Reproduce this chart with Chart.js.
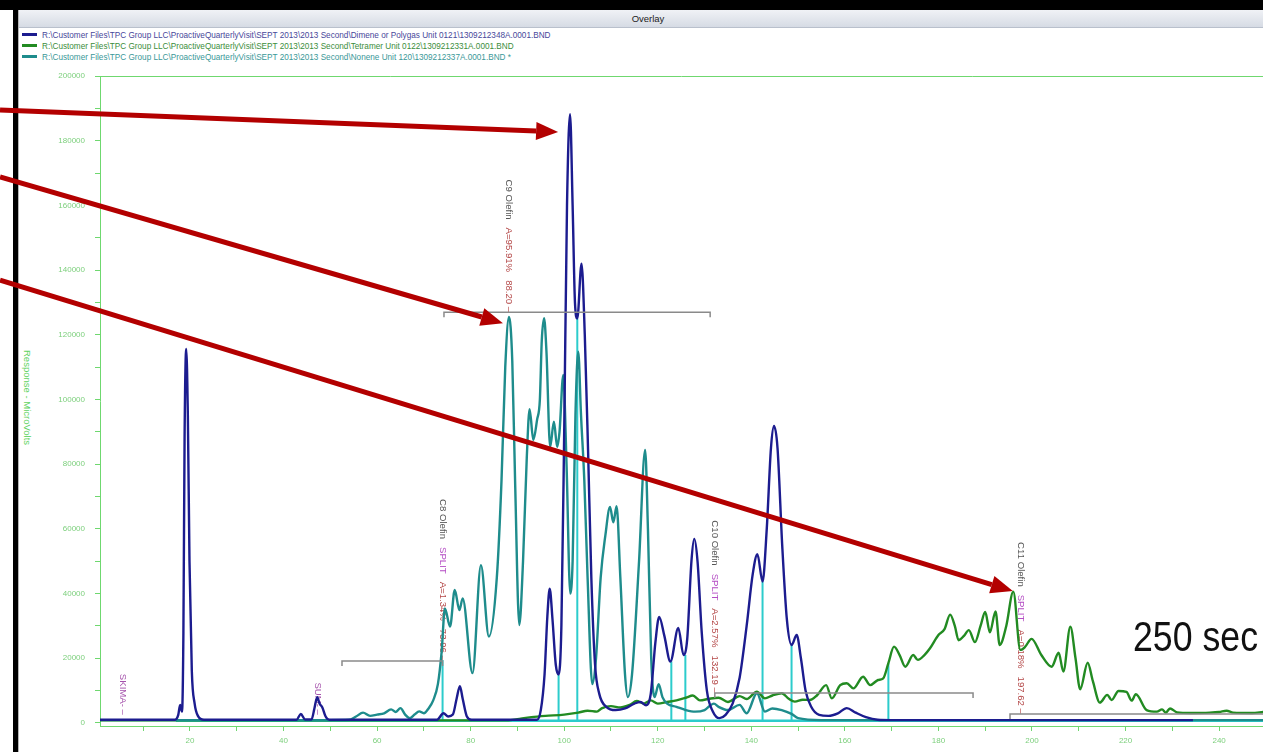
<!DOCTYPE html>
<html>
<head>
<meta charset="utf-8">
<title>Overlay</title>
<script src="https://cdn.jsdelivr.net/npm/chart.js@4/dist/chart.umd.min.js"></script>
<style>
  html, body { margin: 0; padding: 0; background: #fff; }
  body { width: 1263px; height: 752px; position: relative; overflow: hidden;
         font-family: "Liberation Sans", Arial, sans-serif; }
  #frameTop { position: absolute; left: 0; top: 0; width: 1263px; height: 10px; background: #000; }
  #frameLeft { position: absolute; left: 13px; top: 0; width: 5px; height: 752px; background: #000; }
  #frameEdge { position: absolute; left: 18px; top: 10px; width: 1px; height: 742px; background: #b4b4b4; }
  #titleBar { position: absolute; left: 19px; top: 10px; width: 1244px; height: 18px;
              background: linear-gradient(#f0f2f6, #d6dbe4); border-bottom: 1px solid #b9c0cc;
              box-sizing: border-box; padding-left: 14px;
              font-size: 9.5px; line-height: 18px; color: #222; text-align: center; }
  #legend { position: absolute; left: 22px; top: 30px; font-size: 8.2px; line-height: 11px; white-space: nowrap; }
  #legend .row { height: 11px; }
  #legend .sw { display: inline-block; width: 15px; height: 3px; vertical-align: middle; margin-right: 5px; position: relative; top: -1px; }
  #yTitle { position: absolute; left: 22px; top: 350px; writing-mode: vertical-rl; font-size: 9.5px; color: #5fd35f; }
  #chart { position: absolute; left: 0; top: 0; z-index: 2; }
  #note { position: absolute; left: 1133px; top: 616px; z-index: 3; font-size: 42px; line-height: 42px;
          color: #111; white-space: nowrap; transform: scaleX(0.85); transform-origin: 0 0; }
</style>
</head>
<body>
<div id="frameTop"></div>
<div id="frameLeft"></div>
<div id="frameEdge"></div>
<div id="titleBar">Overlay</div>
<div id="legend">
  <div class="row" style="color:#47479a"><span class="sw" style="background:#1c1c8f"></span>R:\Customer Files\TPC Group LLC\ProactiveQuarterlyVisit\SEPT 2013\2013 Second\Dimene or Polygas Unit 0121\1309212348A.0001.BND</div>
  <div class="row" style="color:#3b8d3b"><span class="sw" style="background:#228b22"></span>R:\Customer Files\TPC Group LLC\ProactiveQuarterlyVisit\SEPT 2013\2013 Second\Tetramer Unit 0122\1309212331A.0001.BND</div>
  <div class="row" style="color:#3a9898"><span class="sw" style="background:#1e8c8c"></span>R:\Customer Files\TPC Group LLC\ProactiveQuarterlyVisit\SEPT 2013\2013 Second\Nonene Unit 120\1309212337A.0001.BND *</div>
</div>
<div id="yTitle">Response - MicroVolts</div>
<canvas id="chart" width="1263" height="752"></canvas>
<div id="note">250 sec</div>

<script>
// ---- Axis ticks (minutes on x, microvolts on y) ----
const xTickValues = [10, 20, 30, 40, 50, 60, 70, 80, 90, 100, 110, 120, 130, 140, 150, 160, 170, 180, 190, 200, 210, 220, 230, 240];
const yTickValues = [0, 10000, 20000, 30000, 40000, 50000, 60000, 70000, 80000, 90000, 100000,
                     110000, 120000, 130000, 140000, 150000, 160000, 170000, 180000, 190000, 200000];

// ---- Traces: [time, response] ----
const dimeneTrace = [
  [0.77,1000],[16.8,1000],[17.5,2500],[17.9,5600],[18.3,3500],[18.6,28000],[18.85,88000],[19.2,115600],[19.55,95000],
  [19.9,50000],[20.4,16000],[21.0,6000],[21.7,2200],[23,1000],
  [42.8,1000],[43.7,2800],[44.6,1100],
  [46.0,1100],[46.6,4500],[47.2,8000],[47.7,6000],[48.3,4800],[49,2000],[49.8,1000],
  [72.8,1000],[74.2,3000],[75.2,2000],[76.2,2600],[77.0,7500],[77.7,11400],[78.3,7500],[79.2,2000],[80.2,1000],
  [94.2,1000],[95.0,4000],[95.8,15000],[96.4,33000],[96.9,41500],[97.5,32000],[98.2,18000],[98.8,15000],[99.4,30000],
  [100.0,90000],[100.6,160000],[101.25,188200],[101.8,160000],[102.3,130000],[102.8,125000],[103.7,142000],[104.4,120000],
  [105.1,84400],[105.8,45000],[106.6,18000],[107.5,9000],[109,5000],[111,4000],[113,4500],[115,6000],[116.3,6500],
  [117.5,5500],[118.5,9000],[119.5,25000],[120.3,32800],[121.4,27000],[122.7,19000],[124.4,29400],[125.5,21000],
  [126.3,26000],[127.2,50000],[127.8,56900],[128.5,50000],[129.4,28000],[130.5,10000],[131.8,3500],[133.2,1500],
  [134.5,2500],[136,6000],[137.5,14000],[139,30000],[140.3,46000],[141.3,52200],[142.4,43700],[143.3,60000],
  [144.2,85000],[144.85,91800],[145.6,85000],[146.6,55000],[147.6,32000],[148.6,24100],[149.7,27200],[150.6,20000],
  [151.6,10000],[152.8,5000],[154.5,2500],[156.5,2200],[158.5,3000],[160.4,4600],[162.3,3200],[164.5,1800],
  [167,1000],[170,900],[234.4,900]
];

const tetramerTrace = [
  [0.77,800],[88,800],[90,1200],[93,1800],[96,2200],[100,2600],[103,3200],[105,3800],[107,3500],[108,4500],[110,5200],
  [112,4800],[114,5600],[115.5,6800],[117,6000],[118.5,7000],[120,6000],[122,6500],[124,7000],[126,7800],[127.5,8500],
  [129,7000],[131,7500],[133,7800],[135,6500],[137.5,8300],[139,7400],[141.2,9700],[142.9,7600],[144.5,8500],
  [146.5,9200],[148,7500],[149.3,6600],[151,7200],[152.5,7100],[154,8500],[156,11700],[157.2,7600],[159,11700],
  [160.4,12300],[161.8,10700],[163.9,14300],[165.4,11700],[167.1,13300],[168.2,13800],[169.3,18500],[170.5,23600],
  [171.7,21000],[172.9,17400],[174.6,21000],[175.6,19500],[177,21000],[178.2,23100],[180,27200],[181.3,29000],
  [182.5,33500],[183.5,30000],[184.3,25600],[185.5,27000],[186.5,28700],[187.8,25000],[189,30000],[190,34300],
  [191,28000],[192.2,34500],[193.1,24100],[194.5,30000],[196,40600],[197.5,22600],[198.5,23500],[199.9,26000],
  [202,21000],[204.2,17400],[205.7,21700],[206.7,15900],[208.2,29800],[209.3,20000],[210.3,10400],[211.9,18600],
  [213,13000],[214.5,6300],[216.1,8700],[217,7100],[218.5,9900],[220.2,9600],[221.3,6900],[222.2,8900],[224.5,4000],
  [226.7,3500],[227.8,4200],[228.6,3200],[229.5,4500],[231,3300],[234,3100],[238,3200],[240,3400],[241.6,3800],
  [243,3200],[247,3100],[249.4,3400]
];

const noneneTrace = [
  [0.77,900],[50,900],[54,1000],[55.5,2000],[57,3200],[58.5,2200],[60,2600],[61.5,3000],[63,4200],[64,3400],[65,4600],
  [66,2600],[67,1500],[68,2600],[69,3600],[70,3000],[71,4500],[72,7000],[73,12000],[73.8,22000],[74.5,35400],
  [75.6,29800],[76.6,41100],[77.6,34900],[78.3,38500],[80.4,15400],[82.2,48800],[83.9,26700],[85.6,45000],[86.6,75000],
  [87.4,110000],[88.2,125500],[88.9,112000],[89.5,75000],[90.4,30300],[91.2,50000],[92.0,82000],[92.6,97000],[93.4,87500],
  [94.2,93700],[94.8,100000],[95.2,118000],[95.7,125100],[96.2,115000],[97.0,85400],[97.8,93100],[98.5,85400],[99.0,90000],
  [99.8,107600],[100.5,80000],[101.3,40000],[101.8,50000],[102.4,95000],[103,114800],[103.6,95000],[104.3,75000],
  [105,45000],[106,12000],[106.8,20000],[107.8,45000],[108.8,58000],[109.8,66800],[110.5,62000],[111.2,67000],
  [112,45000],[113,15000],[113.6,8000],[114.5,15000],[116,50000],[117.3,84400],[117.9,60000],[118.6,20000],
  [119.3,8000],[120.2,12000],[121,8000],[122,6000],[124,5000],[126,4000],[128,3500],[130,4000],[132,6000],[133,5000],
  [135,4000],[137.5,5600],[139,3000],[141.2,9200],[142.9,3500],[144.5,4500],[146.5,4000],[148.6,2800],[150,1500],
  [155,900],[249.4,900]
];

// Integration baseline and peak drop lines
const integrationBaseline = [[17,700],[249.4,700]];
const dropTimes = [74.0, 98.8, 102.8, 122.9, 125.9, 142.4, 148.6, 169.3];
const dropTops  = [19500, 15000, 125000, 19000, 21000, 43700, 24100, 18500];

// Named peak groups
const groupNames  = ['C8 Olefin', 'C9 Olefin', 'C10 Olefin', 'C11 Olefin'];
const groupFlags  = ['SPLIT', '', 'SPLIT', 'SPLIT'];
const groupAreas  = ['A=1.34%', 'A=95.91%', 'A=2.57%', 'A=0.18%'];
const groupTimes  = [73.96, 88.20, 132.19, 197.62];
const groupStart  = [52.5, 74.3, 132.2, 195.3];
const groupEnd    = [74.0, 131.2, 187.4, 249.4];
const groupLevel  = [19200, 127000, 9300, 2800];

// Timed events
const eventNames = ['SKIMA-', 'SUM-'];
const eventTimes = [5.7, 47.3];
const eventLevel = [2500, 2500];

// Callout arrows: tail -> tip, in time / response units
const arrowTails = [[-20.6, 189500], [-20.6, 168800], [-20.6, 136900]];
const arrowTips  = [[98.7, 182700], [86.9, 123600], [195.9, 40800]];

// ---- styling ----
const AXIS_GREEN = '#6fd86f';
const LABEL_GREEN = '#7ccf7c';
const BRACKET_TICK = 1600;

const toPoints = arr => arr.map(p => ({ x: p[0], y: p[1] }));

function dropLinePoints() {
  const pts = [];
  dropTimes.forEach((t, i) => {
    pts.push({ x: t, y: 700 }, { x: t, y: dropTops[i] }, { x: t, y: null });
  });
  return pts;
}
function bracketPoints() {
  const pts = [];
  groupStart.forEach((s, i) => {
    const lv = groupLevel[i];
    pts.push({ x: s, y: lv - BRACKET_TICK }, { x: s, y: lv }, { x: groupEnd[i], y: lv },
             { x: groupEnd[i], y: lv - BRACKET_TICK }, { x: groupEnd[i], y: null });
  });
  return pts;
}

const traceStyle = (color, order) => ({
  borderColor: color, borderWidth: 2.4, pointRadius: 0, fill: false,
  cubicInterpolationMode: 'monotone', order: order
});

const datasets = [
  Object.assign({ label: 'Dimene or Polygas Unit 0121', data: toPoints(dimeneTrace) }, traceStyle('#1c1c8f', 0)),
  Object.assign({ label: 'Nonene Unit 120', data: toPoints(noneneTrace) }, traceStyle('#1e8c8c', 1)),
  Object.assign({ label: 'Tetramer Unit 0122', data: toPoints(tetramerTrace) }, traceStyle('#228b22', 2)),
  { label: 'groups', data: bracketPoints(), borderColor: '#8a8a8a', borderWidth: 1.5, pointRadius: 0,
    tension: 0, spanGaps: false, order: -1 },
  { label: 'drops', data: dropLinePoints(), borderColor: '#2ccccc', borderWidth: 2, pointRadius: 0,
    tension: 0, spanGaps: false, order: 3 },
  { label: 'baseline', data: toPoints(integrationBaseline), borderColor: '#2ccccc', borderWidth: 2.5,
    pointRadius: 0, tension: 0, order: 4 }
];

// Rotated peak/event annotations, drawn beneath the traces
const peakLabels = {
  id: 'peakLabels',
  beforeDatasetsDraw(chart) {
    const { ctx, scales: { x, y } } = chart;
    ctx.save();
    ctx.font = '9.6px "Liberation Sans", Arial, sans-serif';
    ctx.textBaseline = 'middle';
    ctx.textAlign = 'left';
    const gap = 8;
    const drawVertical = (parts, t, level) => {
      const px = x.getPixelForValue(t), py = y.getPixelForValue(level);
      const widths = parts.map(p => ctx.measureText(p[0]).width);
      const total = widths.reduce((a, b) => a + b, 0) + gap * (parts.length - 1);
      ctx.save();
      ctx.translate(px, py);
      ctx.rotate(Math.PI / 2);
      let cx = -total;
      parts.forEach((p, i) => {
        ctx.fillStyle = p[1];
        ctx.fillText(p[0], cx, 0);
        cx += widths[i] + gap;
      });
      ctx.restore();
    };
    groupNames.forEach((name, i) => {
      const parts = [[name, '#555555']];
      if (groupFlags[i]) parts.push([groupFlags[i], '#b44cc4']);
      parts.push([groupAreas[i], '#b44848']);
      parts.push([groupTimes[i].toFixed(2) + ' \u2013', '#b44848']);
      drawVertical(parts, groupTimes[i], groupLevel[i]);
    });
    eventNames.forEach((name, i) => {
      drawVertical([[name + ' \u2013', '#a552ac']], eventTimes[i], eventLevel[i]);
    });
    ctx.restore();
  }
};

// Plot frame top edge
const plotFrame = {
  id: 'plotFrame',
  afterDraw(chart) {
    const { ctx, chartArea: a } = chart;
    ctx.save();
    ctx.strokeStyle = AXIS_GREEN;
    ctx.lineWidth = 1;
    ctx.beginPath();
    ctx.moveTo(a.left, a.top + 0.5);
    ctx.lineTo(a.right, a.top + 0.5);
    ctx.stroke();
    ctx.restore();
  }
};

// Red callout arrows on top of everything
const callouts = {
  id: 'callouts',
  afterDraw(chart) {
    const { ctx, scales: { x, y } } = chart;
    ctx.save();
    ctx.strokeStyle = '#b30000';
    ctx.fillStyle = '#b30000';
    ctx.lineWidth = 5;
    ctx.lineCap = 'butt';
    arrowTails.forEach((tail, i) => {
      const x0 = x.getPixelForValue(tail[0]), y0 = y.getPixelForValue(tail[1]);
      const x1 = x.getPixelForValue(arrowTips[i][0]), y1 = y.getPixelForValue(arrowTips[i][1]);
      const ang = Math.atan2(y1 - y0, x1 - x0);
      const headLen = 22, headHalf = 9;
      const bx = x1 - headLen * Math.cos(ang), by = y1 - headLen * Math.sin(ang);
      ctx.beginPath();
      ctx.moveTo(x0, y0);
      ctx.lineTo(bx, by);
      ctx.stroke();
      ctx.beginPath();
      ctx.moveTo(x1, y1);
      ctx.lineTo(bx + headHalf * Math.sin(ang), by - headHalf * Math.cos(ang));
      ctx.lineTo(bx - headHalf * Math.sin(ang), by + headHalf * Math.cos(ang));
      ctx.closePath();
      ctx.fill();
    });
    ctx.restore();
  }
};

new Chart(document.getElementById('chart').getContext('2d'), {
  type: 'line',
  data: { datasets },
  options: {
    responsive: false,
    animation: false,
    plugins: { legend: { display: false }, tooltip: { enabled: false } },
    layout: { padding: { top: 76, left: 0, right: 0, bottom: 0 } },
    scales: {
      x: {
        type: 'linear', min: 0.77, max: 249.38,
        afterFit(s) { s.height = 26; },
        afterBuildTicks(s) { s.ticks = xTickValues.map(v => ({ value: v })); },
        ticks: {
          autoSkip: false, maxRotation: 0, padding: 5, color: LABEL_GREEN,
          font: { size: 8, family: '"Liberation Sans", Arial, sans-serif' },
          callback: v => (v % 20 === 0 ? String(v) : '')
        },
        grid: { drawOnChartArea: false, color: AXIS_GREEN, tickLength: 5 },
        border: { color: AXIS_GREEN, width: 1 }
      },
      y: {
        type: 'linear', min: -930, max: 200000,
        afterFit(s) { s.width = 100; },
        afterBuildTicks(s) { s.ticks = yTickValues.map(v => ({ value: v })); },
        ticks: {
          autoSkip: false, padding: 10, color: LABEL_GREEN,
          font: { size: 8, family: '"Liberation Sans", Arial, sans-serif' },
          callback: v => (v % 20000 === 0 ? String(v) : '')
        },
        grid: { drawOnChartArea: false, color: AXIS_GREEN, tickLength: 5 },
        border: { color: AXIS_GREEN, width: 1 }
      }
    }
  },
  plugins: [peakLabels, plotFrame, callouts]
});
</script>
</body>
</html>
